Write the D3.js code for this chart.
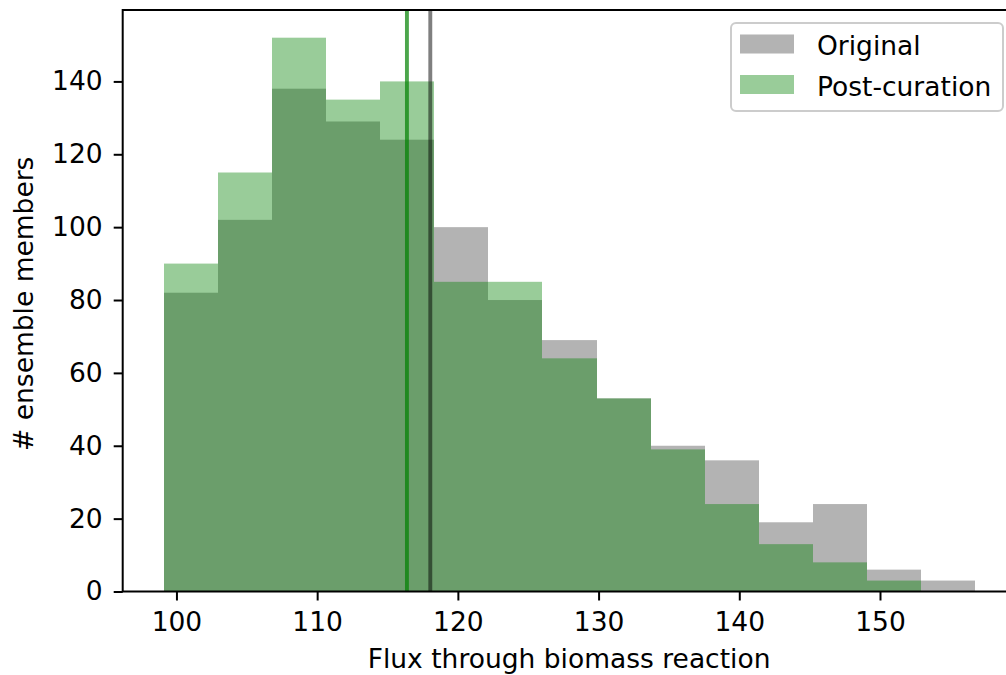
<!DOCTYPE html>
<html>
<head>
<meta charset="utf-8">
<script src="https://cdn.jsdelivr.net/npm/d3@7"></script>
<style>
  body { margin: 0; background: #fff; }
  .canvas { width: 1006px; height: 675px; }
  text { font-family: "DejaVu Sans", sans-serif; }
</style>
</head>
<body>
<div class="canvas"></div>
<script>
// histogram data
//---------------------------
const binEdges = [99.11, 102.95, 106.80, 110.64, 114.48, 118.33, 122.17, 126.01,
                  129.86, 133.70, 137.54, 141.39, 145.23, 149.07, 152.92, 156.76];
const originalCounts = [82, 102, 138, 129, 124, 100, 80, 69, 53, 40, 36, 19, 24, 6, 3];
const curatedCounts  = [90, 115, 152, 135, 140, 85, 85, 64, 53, 39, 24, 13, 8, 3, 0];
const meanLines = [
    { name: 'Original', value: 118.04 },
    { name: 'Post-curation', value: 116.38 }
];
const xTicks = [100, 110, 120, 130, 140, 150];
const yTicks = [0, 20, 40, 60, 80, 100, 120, 140];
const seriesNames = ['Original', 'Post-curation'];
//---------------------------

const chartProp = {
    width: 1006,
    height: 675,
    // plot area (right spine falls just outside the picture)
    left: 122.7,
    right: 1015.5,
    top: 10,
    bottom: 591.5,
    fontSize: 26.5,
    xDomain: [96.18, 159.63],
    yDomain: [0, 159.6]
};

const svg = d3.select('.canvas').append('svg')
    .attr('width', chartProp.width)
    .attr('height', chartProp.height);

const x = d3.scaleLinear()
    .domain(chartProp.xDomain)
    .range([chartProp.left, chartProp.right]);

const y = d3.scaleLinear()
    .domain(chartProp.yDomain)
    .range([chartProp.bottom, chartProp.top]);

// turn counts into bins, snapped to whole pixels so neighbouring bars don't leave seams
const toBins = counts => counts.map((c, i) => ({
    x0: Math.round(x(binEdges[i])),
    x1: Math.round(x(binEdges[i + 1])),
    count: c
}));

const graph = svg.append('g');

// grey first, then green on top (both translucent like matplotlib)
const drawHist = (counts, color, alpha) => {
    graph.append('g')
        .selectAll('rect')
        .data(toBins(counts).filter(d => d.count > 0))
        .enter()
        .append('rect')
        .attr('x', d => d.x0)
        .attr('width', d => d.x1 - d.x0)
        .attr('y', d => y(d.count))
        .attr('height', d => y(0) - y(d.count))
        .attr('fill', color)
        .attr('fill-opacity', alpha);
};
drawHist(originalCounts, 'gray', 0.6);
drawHist(curatedCounts, 'green', 0.4);

// mean lines
const lineStyle = { 'Original': ['black', 0.5], 'Post-curation': ['green', 0.7] };
graph.selectAll('line.mean')
    .data(meanLines)
    .enter()
    .append('line')
    .attr('class', 'mean')
    .attr('x1', d => x(d.value))
    .attr('x2', d => x(d.value))
    .attr('y1', chartProp.top)
    .attr('y2', chartProp.bottom)
    .attr('stroke', d => lineStyle[d.name][0])
    .attr('stroke-opacity', d => lineStyle[d.name][1])
    .attr('stroke-width', 3.9);

// axes
const xAxis = d3.axisBottom(x).tickValues(xTicks).tickSize(9).tickPadding(12).tickSizeOuter(0);
const yAxis = d3.axisLeft(y).tickValues(yTicks).tickSize(9).tickPadding(11).tickSizeOuter(0);

const xAxisGroup = svg.append('g')
    .attr('transform', `translate(0, ${chartProp.bottom})`)
    .call(xAxis);
const yAxisGroup = svg.append('g')
    .attr('transform', `translate(${chartProp.left}, 0)`)
    .call(yAxis);

[xAxisGroup, yAxisGroup].forEach(g => {
    g.select('.domain').remove();
    g.attr('font-size', null).attr('font-family', null);
    g.selectAll('line').attr('stroke', 'black').attr('stroke-width', 2);
    g.selectAll('text').attr('fill', 'black').style('font-size', chartProp.fontSize + 'px');
});

// spines
svg.append('rect')
    .attr('x', chartProp.left)
    .attr('y', chartProp.top)
    .attr('width', chartProp.right - chartProp.left)
    .attr('height', chartProp.bottom - chartProp.top)
    .attr('fill', 'none')
    .attr('stroke', 'black')
    .attr('stroke-width', 2);

// axis labels
svg.append('text')
    .attr('x', (chartProp.left + chartProp.right) / 2)
    .attr('y', 668)
    .attr('text-anchor', 'middle')
    .style('font-size', chartProp.fontSize + 'px')
    .text('Flux through biomass reaction');

svg.append('text')
    .attr('transform', `translate(33, ${(chartProp.top + chartProp.bottom) / 2 + 3}) rotate(-90)`)
    .attr('text-anchor', 'middle')
    .style('font-size', chartProp.fontSize + 'px')
    .text('# ensemble members');

// legend
const legend = svg.append('g').attr('transform', 'translate(731, 23)');
legend.append('rect')
    .attr('width', 272)
    .attr('height', 88)
    .attr('rx', 5)
    .attr('fill', 'white')
    .attr('fill-opacity', 0.8)
    .attr('stroke', '#cccccc')
    .attr('stroke-width', 2);

const legendColors = [['gray', 0.6], ['green', 0.4]];
const items = legend.selectAll('g.item')
    .data(seriesNames)
    .enter()
    .append('g')
    .attr('class', 'item')
    .attr('transform', (d, i) => `translate(0, ${i * 40.5})`);

items.append('rect')
    .attr('x', 9)
    .attr('y', 11.5)
    .attr('width', 54)
    .attr('height', 19)
    .attr('fill', (d, i) => legendColors[i][0])
    .attr('fill-opacity', (d, i) => legendColors[i][1]);

items.append('text')
    .attr('x', 86)
    .attr('y', 32)
    .style('font-size', chartProp.fontSize + 'px')
    .text(d => d);
</script>
</body>
</html>
